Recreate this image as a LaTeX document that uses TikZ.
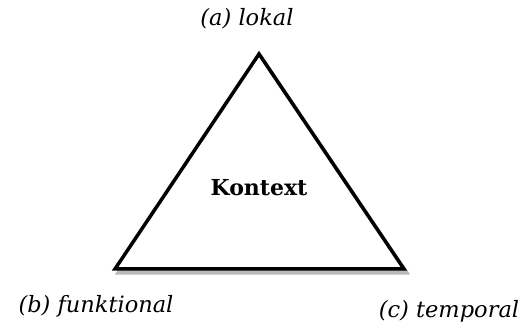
\documentclass[tikz,border=0pt]{standalone}
\usepackage{fontspec}
\setmainfont{DejaVu Serif}
\begin{document}
\begin{tikzpicture}[x=1pt,y=1pt,
  corner/.style={inner sep=0pt, font=\fontsize{22.5}{26}\selectfont\itshape},
  centre/.style={inner sep=0pt, font=\fontsize{22}{26}\selectfont\bfseries}]
\useasboundingbox (0,0) rectangle (520,323);
\coordinate (A) at (259,269);
\coordinate (B) at (115,54);
\coordinate (C) at (404,54);
% drop shadow
\draw[black!27, fill=black!27, line width=3.5pt]
  ([shift={(3,-4)}]A) -- ([shift={(3,-4)}]B) -- ([shift={(3,-4)}]C) -- cycle;
% triangle
\draw[line width=3.5pt, fill=white, line join=miter] (A) -- (B) -- (C) -- cycle;
\node[centre] (k) at (259,135) {Kontext};
\node[corner, anchor=base] (a) at (247,297) {(a) lokal};
\node[corner, anchor=base] (b) at (96,10) {(b) funktional};
\node[corner, anchor=base] (c) at (449,5) {(c) temporal};
\end{tikzpicture}
\end{document}
